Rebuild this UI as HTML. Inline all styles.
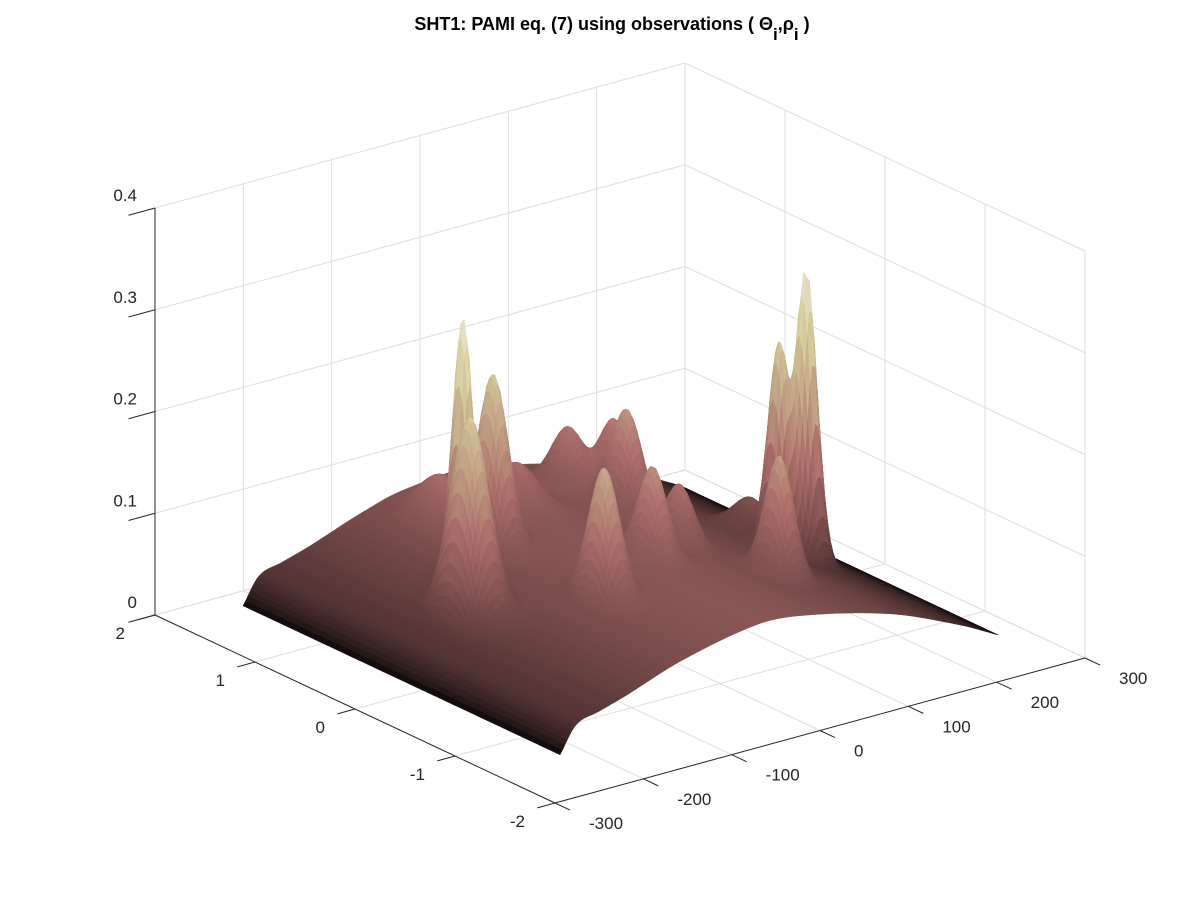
<!DOCTYPE html>
<html>
<head>
<meta charset="utf-8">
<style>
  html,body{margin:0;padding:0;background:#fff;}
  svg{display:block;font-family:"Liberation Sans",sans-serif;}
</style>
</head>
<body>
<svg id="chart" width="1200" height="900" viewBox="0 0 1200 900">
  <rect x="0" y="0" width="1200" height="900" fill="#ffffff"/>
  <g id="grid"></g>
  <g id="surf"></g>
  <g id="axes"></g>
  <text x="612" y="30" text-anchor="middle" font-size="18" font-weight="bold" fill="#000">SHT1: PAMI eq. (7) using observations ( Θ<tspan dy="10" font-size="17">i</tspan><tspan dy="-10">,ρ</tspan><tspan dy="10" font-size="17">i</tspan><tspan dy="-10"> )</tspan></text>
</svg>
<script>
// ---- data ----
const xTicks = [-300, -200, -100, 0, 100, 200, 300];
const yTicks = [-2, -1, 0, 1, 2];
const zTicks = [0, 0.1, 0.2, 0.3, 0.4];
const zTickLabels = ["0", "0.1", "0.2", "0.3", "0.4"];
const peakX = [-110, -53, -136, -56, 89, 98, 118, -52, 37, 90, 211, 191, 124, 206, 20];
const peakY = [0.6, 0.8, 0.3, 1.3, 1.3, 0.8, 1.1, -0.3, 0.0, 0.2, 0.0, 0.1, -0.5, 0.5, 1.2];
const peakHeight = [0.255, 0.165, 0.19, 0.045, 0.06, 0.1, 0.075, 0.125, 0.085, 0.055, 0.28, 0.2, 0.115, 0.035, 0.035];
const peakWidthX = [10, 15, 19, 26, 17, 16, 15, 16, 14, 14, 11, 11, 14, 18, 20];
const peakWidthY = [0.12, 0.17, 0.21, 0.28, 0.19, 0.18, 0.17, 0.17, 0.16, 0.16, 0.12, 0.12, 0.16, 0.2, 0.22];
const baseX = [-223, -205, -180, -150, -85, 0, 50, 150, 230, 273];
const baseZ = [0, 0.025, 0.032, 0.04, 0.06, 0.075, 0.072, 0.05, 0.02, 0];
const surfXRange = [-223, 273];
const surfYRange = [-1.37, 1.8];

const NS = "http://www.w3.org/2000/svg";
function P(x, y, z) {
  return [555 + (x + 300) * (530 / 600) - (y + 2) * 100,
          803 - (x + 300) * (145 / 600) - (y + 2) * 47 - z * 1017.5];
}
function line(g, a, b, color, w, name) {
  const l = document.createElementNS(NS, "line");
  l.setAttribute("x1", a[0]); l.setAttribute("y1", a[1]);
  l.setAttribute("x2", b[0]); l.setAttribute("y2", b[1]);
  l.setAttribute("stroke", color); l.setAttribute("stroke-width", w);
  
  
  g.appendChild(l);
}
function text(g, x, y, s, anchor, name) {
  const t = document.createElementNS(NS, "text");
  t.setAttribute("x", x); t.setAttribute("y", y);
  t.setAttribute("text-anchor", anchor);
  t.setAttribute("font-size", "17"); t.setAttribute("fill", "#262626");
  t.textContent = s;
  
  
  g.appendChild(t);
}

// ---- grid ----
const grid = document.getElementById("grid");
const gc = "#dedede";
const zMax = zTicks[zTicks.length - 1];
xTicks.forEach(x => {
  line(grid, P(x, 2, 0), P(x, 2, zMax), gc, 1, "grid-x-wall");
  line(grid, P(x, -2, 0), P(x, 2, 0), gc, 1, "grid-x-floor");
});
yTicks.forEach(y => {
  line(grid, P(300, y, 0), P(300, y, zMax), gc, 1, "grid-y-wall");
  line(grid, P(-300, y, 0), P(300, y, 0), gc, 1, "grid-y-floor");
});
zTicks.forEach(z => {
  line(grid, P(-300, 2, z), P(300, 2, z), gc, 1, "grid-z-back");
  line(grid, P(300, 2, z), P(300, -2, z), gc, 1, "grid-z-right");
});

// ---- surface ----
function baseAt(x) {
  const n = baseX.length;
  if (x <= baseX[0]) return baseZ[0];
  if (x >= baseX[n - 1]) return baseZ[n - 1];
  let k = 0;
  while (x > baseX[k + 1]) k++;
  const t = (x - baseX[k]) / (baseX[k + 1] - baseX[k]);
  const slope = m => {
    if (m <= 0) return (baseZ[1] - baseZ[0]) / (baseX[1] - baseX[0]);
    if (m >= n - 1) return (baseZ[n - 1] - baseZ[n - 2]) / (baseX[n - 1] - baseX[n - 2]);
    return (baseZ[m + 1] - baseZ[m - 1]) / (baseX[m + 1] - baseX[m - 1]);
  };
  const h = baseX[k + 1] - baseX[k];
  const m0 = slope(k) * h, m1 = slope(k + 1) * h;
  const t2 = t * t, t3 = t2 * t;
  return (2 * t3 - 3 * t2 + 1) * baseZ[k] + (t3 - 2 * t2 + t) * m0 + (-2 * t3 + 3 * t2) * baseZ[k + 1] + (t3 - t2) * m1;
}
function f(x, y) {
  let z = baseAt(x);
  for (let i = 0; i < peakX.length; i++) {
    z += peakHeight[i] * Math.exp(-Math.pow((x - peakX[i]) / peakWidthX[i], 2) - Math.pow((y - peakY[i]) / peakWidthY[i], 2));
  }
  return z;
}
function pink(t) {
  t = Math.max(0, Math.min(1, t));
  const hr = Math.min(1, t * 8 / 3), hg = Math.max(0, Math.min(1, t * 8 / 3 - 1)), hb = Math.max(0, Math.min(1, t * 4 - 3));
  return [Math.sqrt((2 * t + hr) / 3), Math.sqrt((2 * t + hg) / 3), Math.sqrt((2 * t + hb) / 3)];
}
const surf = document.getElementById("surf");
const NX = 180, NY = 110;
const xs = [], ys = [];
for (let i = 0; i <= NX; i++) xs.push(surfXRange[0] + (surfXRange[1] - surfXRange[0]) * i / NX);
for (let j = 0; j <= NY; j++) ys.push(surfYRange[0] + (surfYRange[1] - surfYRange[0]) * j / NY);
const Z = xs.map(x => ys.map(y => f(x, y)));
let zmaxData = 0;
Z.forEach(r => r.forEach(v => { if (v > zmaxData) zmaxData = v; }));
const quads = [];
for (let i = 0; i < NX; i++) {
  for (let j = 0; j < NY; j++) {
    const d = (xs[i] + 300) / 600 + (ys[j] + 2) / 4;
    quads.push([d, i, j]);
  }
}
quads.sort((a, b) => b[0] - a[0]);
const L = [-0.35, -0.45, 0.82];
let html = "";
quads.forEach(q => {
  const i = q[1], j = q[2];
  const p1 = P(xs[i], ys[j], Z[i][j]), p2 = P(xs[i + 1], ys[j], Z[i + 1][j]),
        p3 = P(xs[i + 1], ys[j + 1], Z[i + 1][j + 1]), p4 = P(xs[i], ys[j + 1], Z[i][j + 1]);
  const zc = (Z[i][j] + Z[i + 1][j] + Z[i + 1][j + 1] + Z[i][j + 1]) / 4;
  const dX = (xs[i + 1] - xs[i]) / 600, dY = (ys[j + 1] - ys[j]) / 4;
  const gx = ((Z[i + 1][j] + Z[i + 1][j + 1]) - (Z[i][j] + Z[i][j + 1])) / 2 / 0.4 / dX;
  const gy = ((Z[i][j + 1] + Z[i + 1][j + 1]) - (Z[i][j] + Z[i + 1][j])) / 2 / 0.4 / dY;
  const nl = Math.sqrt(gx * gx + gy * gy + 1);
  const dot = (-gx * L[0] - gy * L[1] + L[2]) / nl;
  const tn = zc / zmaxData;
  const k = 0.78 + 0.12 * Math.max(0, dot) + 0.1 * tn;
  const c = pink(tn * 0.92);
  const col = "rgb(" + Math.round(255 * Math.min(1, c[0] * k)) + "," + Math.round(255 * Math.min(1, c[1] * k * 0.97)) + "," + Math.round(255 * Math.min(1, c[2] * k * 0.95)) + ")";
  html += '<path d="M' + p1[0].toFixed(1) + ' ' + p1[1].toFixed(1) + 'L' + p2[0].toFixed(1) + ' ' + p2[1].toFixed(1) +
          'L' + p3[0].toFixed(1) + ' ' + p3[1].toFixed(1) + 'L' + p4[0].toFixed(1) + ' ' + p4[1].toFixed(1) +
          'Z" fill="' + col + '" stroke="' + col + '" stroke-width="0.5"/>';
});
surf.innerHTML = html;

// ---- axes ----
const axes = document.getElementById("axes");
const ac = "#262626";
line(axes, P(-300, -2, 0), P(-300, 2, 0), ac, 1, "y-axis-line");
line(axes, P(-300, -2, 0), P(300, -2, 0), ac, 1, "x-axis-line");
line(axes, P(-300, 2, 0), P(-300, 2, zMax), ac, 1, "z-axis-line");
xTicks.forEach(x => {
  const a = P(x, -2, 0), b = P(x, -2.15, 0);
  line(axes, a, b, ac, 1, "x-tick");
  text(axes, a[0] + 34, a[1] + 26, String(x), "start", "x-tick-label");
});
yTicks.forEach(y => {
  const a = P(-300, y, 0), b = P(-320, y, 0);
  line(axes, a, b, ac, 1, "y-tick");
  text(axes, a[0] - 30, a[1] + 24, String(y), "end", "y-tick-label");
});
zTicks.forEach((z, k) => {
  const a = P(-300, 2, z), b = P(-330, 2, z);
  line(axes, a, b, ac, 1, "z-tick");
  text(axes, 137, a[1] - 7, zTickLabels[k], "end", "z-tick-label");
});
</script>
</body>
</html>
